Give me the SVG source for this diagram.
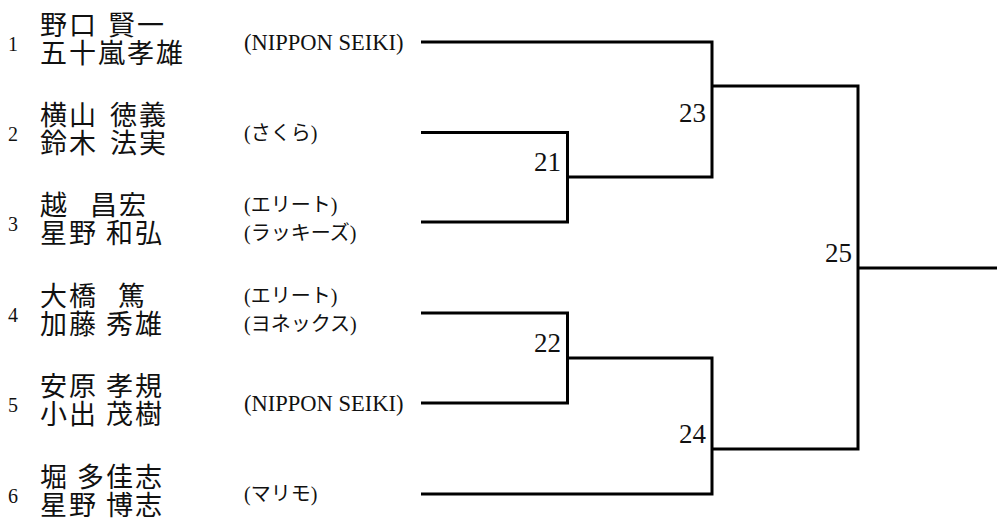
<svg xmlns="http://www.w3.org/2000/svg" width="997" height="522" viewBox="0 0 997 522">
<style>
.bg{fill:#fff}
.num{font-family:"Liberation Serif",serif;font-size:20px;fill:#111}
.name{font-family:"Noto Sans CJK JP","Noto Sans CJK SC",sans-serif;font-size:27px;letter-spacing:2px;fill:#111}
.club{font-family:"Liberation Serif","Noto Sans CJK JP",serif;font-size:20px;fill:#111}
.clubl{font-family:"Liberation Serif",serif;font-size:22.5px;fill:#111}
.rnd{font-family:"Liberation Serif",serif;font-size:27px;fill:#111;text-anchor:end}
.ln{fill:none;stroke:#000;stroke-width:3;stroke-linejoin:miter;stroke-linecap:butt}
</style>
<rect class="bg" x="0" y="0" width="997" height="522"/>
<g id="entry1">
<text class="num" x="8" y="51">1</text>
<text class="name" x="40" y="35" word-spacing="2">野口 賢一</text>
<text class="name" x="40" y="63">五十嵐孝雄</text>
<text class="clubl" x="244" y="50">(NIPPON SEIKI)</text>
</g>
<g id="entry2">
<text class="num" x="8" y="141">2</text>
<text class="name" x="40" y="125" word-spacing="4">横山 徳義</text>
<text class="name" x="40" y="153" word-spacing="4">鈴木 法実</text>
<text class="club" x="244" y="140">(さくら)</text>
</g>
<g id="entry3">
<text class="num" x="8" y="231">3</text>
<text class="name" x="40" y="215" word-spacing="13">越 昌宏</text>
<text class="name" x="40" y="243">星野 和弘</text>
<text class="club" x="244" y="212">(エリート)</text>
<text class="club" x="244" y="240">(ラッキーズ)</text>
</g>
<g id="entry4">
<text class="num" x="8" y="322">4</text>
<text class="name" x="40" y="306" word-spacing="12">大橋 篤</text>
<text class="name" x="40" y="334">加藤 秀雄</text>
<text class="club" x="244" y="303">(エリート)</text>
<text class="club" x="244" y="331">(ヨネックス)</text>
</g>
<g id="entry5">
<text class="num" x="8" y="412">5</text>
<text class="name" x="40" y="396">安原 孝規</text>
<text class="name" x="40" y="424">小出 茂樹</text>
<text class="clubl" x="244" y="411">(NIPPON SEIKI)</text>
</g>
<g id="entry6">
<text class="num" x="8" y="503">6</text>
<text class="name" x="40" y="487">堀 多佳志</text>
<text class="name" x="40" y="515">星野 博志</text>
<text class="club" x="244" y="501">(マリモ)</text>
</g>
<g id="connectors">
<path class="ln" d="M421,42 H712 V177 H567.5"/>
<path class="ln" d="M421,132.5 H567.5 V222 H421"/>
<path class="ln" d="M421,313 H567.5 V403 H421"/>
<path class="ln" d="M567.5,358 H712 V494 H421"/>
<path class="ln" d="M712,86 H858 V449 H712"/>
<path class="ln" d="M858,268 H997"/>
</g>
<g id="match21"><text class="rnd" x="561" y="171">21</text></g>
<g id="match22"><text class="rnd" x="561" y="352">22</text></g>
<g id="match23"><text class="rnd" x="706" y="122">23</text></g>
<g id="match24"><text class="rnd" x="706" y="443">24</text></g>
<g id="match25"><text class="rnd" x="852" y="262">25</text></g>
</svg>
